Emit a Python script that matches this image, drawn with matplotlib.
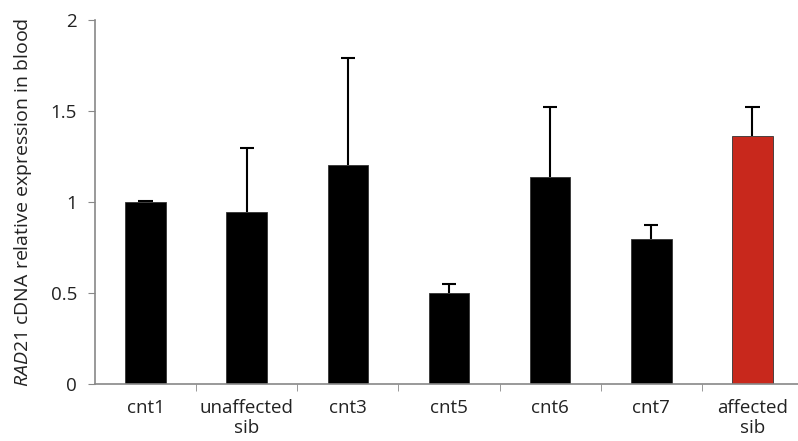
import matplotlib.pyplot as plt
import numpy as np

plt.rcParams['font.family'] = ['Open Sans', 'DejaVu Sans']
plt.rcParams['mathtext.fontset'] = 'custom'
plt.rcParams['mathtext.it'] = 'Open Sans:italic'
plt.rcParams['mathtext.rm'] = 'Open Sans'

# data
labels = ["cnt1", "unaffected\nsib", "cnt3", "cnt5", "cnt6", "cnt7", "affected\nsib"]
values = [1.00, 0.947, 1.203, 0.502, 1.139, 0.795, 1.363]
err_up = [0.005, 0.348, 0.587, 0.047, 0.381, 0.079, 0.157]
colors = ["black"] * 6 + ["#c8281c"]

fig = plt.figure(figsize=(7.98, 4.41), dpi=100)
ax = fig.add_axes([0.119, 0.129, 0.881, 0.826])

x = np.arange(len(labels))
vals = np.array(values)
tops = vals + np.array(err_up)
# only the upper half of each error bar
ax.vlines(x, vals, tops, color="black", linewidth=1.5, zorder=1)
ax.hlines(tops, x - 0.07, x + 0.07, color="black", linewidth=1.5, zorder=1)
ax.bar(x, values, width=0.4, color=colors, edgecolor="#333333", linewidth=0.6, zorder=2)

ax.set_ylim(0, 2)
ax.set_xlim(-0.5, 6.45)
ax.set_yticks([0, 0.5, 1, 1.5, 2])
ax.set_yticklabels(["0", "0.5", "1", "1.5", "2"])
ax.set_xticks(x)
ax.set_xticklabels(labels, fontsize=13.5, linespacing=1.15, color="#222222")
ax.set_xticks(np.arange(0.5, 6.5, 1), minor=True)
ax.tick_params(axis="x", which="major", length=0, pad=11)
ax.tick_params(axis="x", which="minor", length=5, color="#888888", direction="out")
ax.tick_params(axis="y", length=5, color="#888888", labelsize=13.5, labelcolor="#222222", pad=8)

for s in ["top", "right"]:
    ax.spines[s].set_visible(False)
ax.spines["left"].set_color("#888888")
ax.spines["bottom"].set_color("#888888")
ax.spines["left"].set_linewidth(1.2)
ax.spines["bottom"].set_linewidth(1.2)

ax.set_ylabel(r"$\mathit{RAD21}$ cDNA relative expression in blood", fontsize=14,
              color="#222222", labelpad=12)

fig.savefig("out.png", dpi=100)
